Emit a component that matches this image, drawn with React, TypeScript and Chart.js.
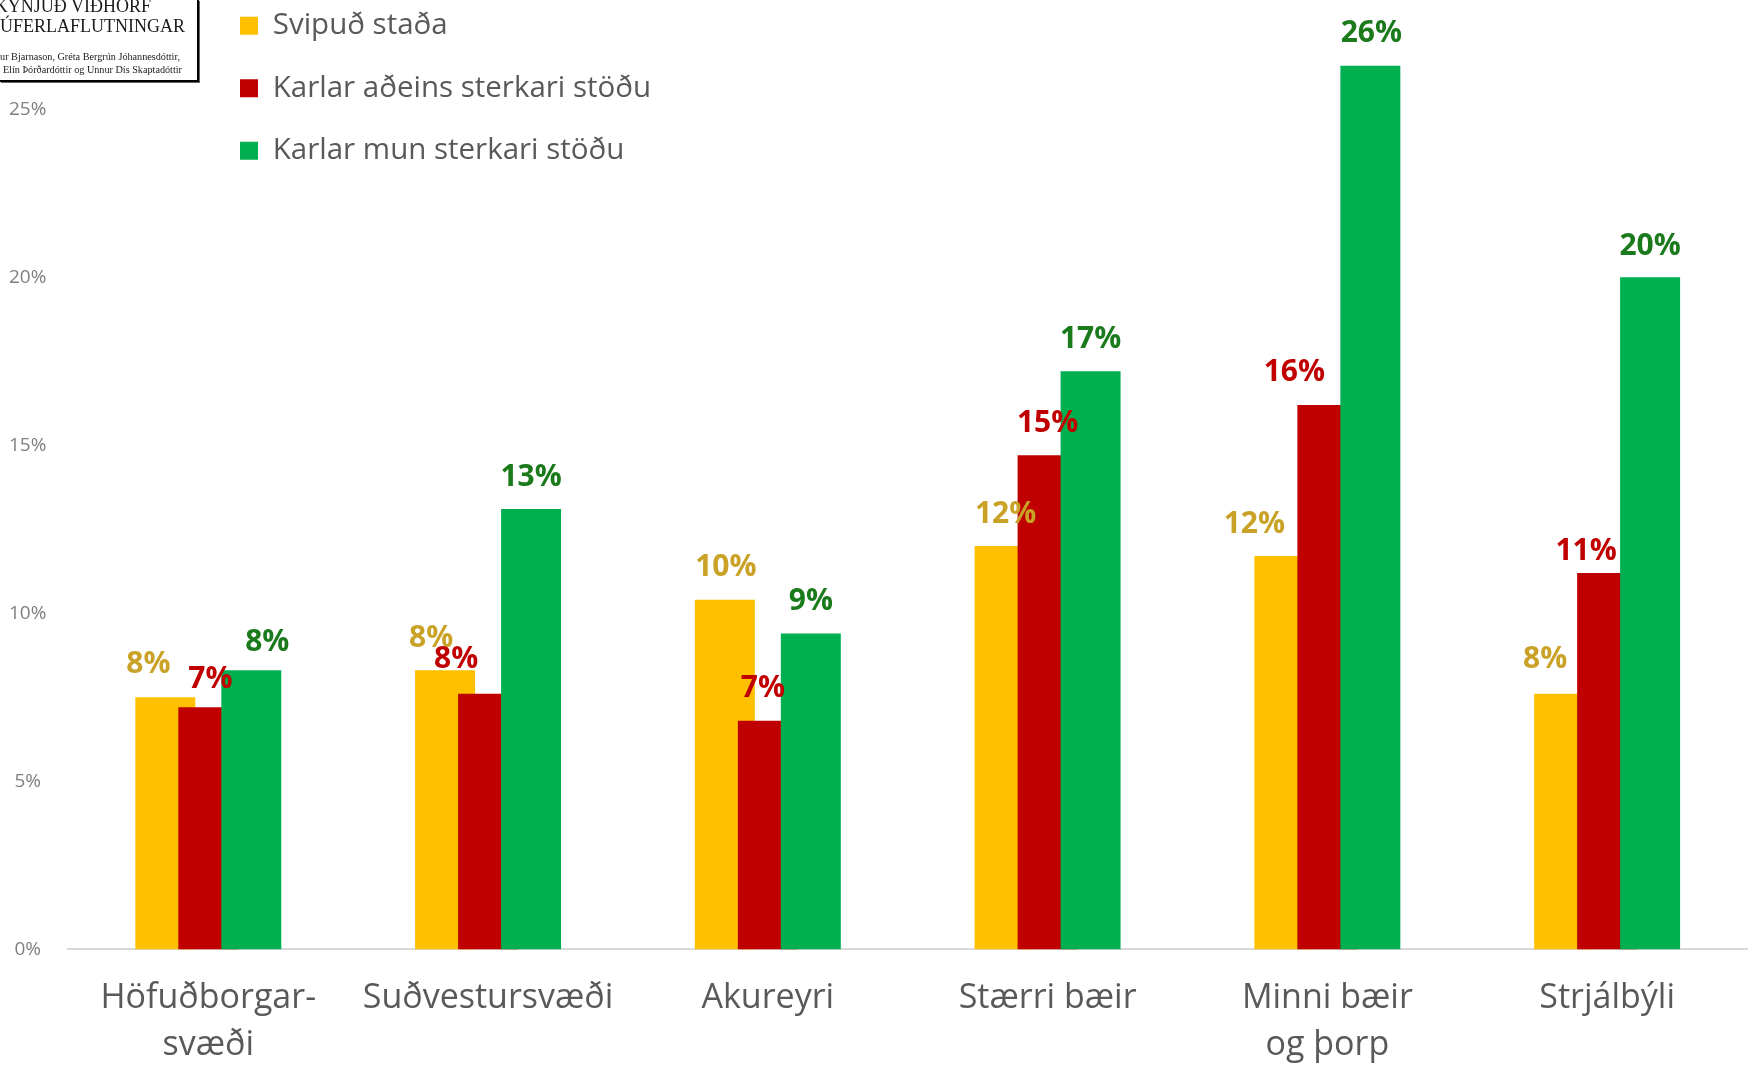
import React, { useEffect, useRef } from 'react';
import { Chart, registerables } from 'chart.js';

Chart.register(...registerables);

// ---------- data ----------
const categories: (string | string[])[] = [
  ['Höfuðborgar-', 'svæði'],
  'Suðvestursvæði',
  'Akureyri',
  'Stærri bæir',
  ['Minni bæir', 'og þorp'],
  'Strjálbýli',
];
const seriesNames = ['Svipuð staða', 'Karlar aðeins sterkari stöðu', 'Karlar mun sterkari stöðu'];
const svipudStada = [7.5, 8.3, 10.4, 12.0, 11.7, 7.6];
const karlarAdeins = [7.2, 7.6, 6.8, 14.7, 16.2, 11.2];
const karlarMun = [8.3, 13.1, 9.4, 17.2, 26.3, 20.0];
const yTickValues = [0, 5, 10, 15, 20, 25];

// ---------- styles ----------
const barColors = ['#FFC000', '#C00000', '#00B050'];
const labelColors = ['#C9A227', '#C00000', '#1B7A1B'];
// per-label nudges (px) relative to default "centered above bar"
const labelDx = [
  [-17, -14, 1, 1, -30, -19],
  [2, -32, -5, 0, -33, -21],
  [16, 0, 0, 0, 1, 0],
];
const labelDy = [
  [-1, 0, 0, 0, 0, -2],
  [4, -2, 0, 0, 0, 11],
  [4, 0, 0, 0, 0, 1],
];
const LABEL_GAP = 32;
const LEGEND_LEFT = 207;
const LEGEND_TOP = -22;

const drawOrderPlugin = {
  id: 'drawOrder',
  beforeDatasetsDraw(chart: any) {
    for (let i = 0; i < chart.data.datasets.length; i++) {
      const meta = chart.getDatasetMeta(i);
      if (!meta.hidden) meta.controller.draw();
    }
    return false;
  },
};

const valueLabelPlugin = {
  id: 'valueLabels',
  afterDraw(chart: any) {
    const ctx = chart.ctx;
    ctx.save();
    ctx.font = 'bold 30px "Open Sans"';
    ctx.textAlign = 'center';
    ctx.textBaseline = 'middle';
    chart.data.datasets.forEach((ds: any, i: number) => {
      const meta = chart.getDatasetMeta(i);
      meta.data.forEach((bar: any, j: number) => {
        const v = ds.data[j];
        ctx.fillStyle = labelColors[i];
        ctx.fillText(Math.round(v) + '%', bar.x + labelDx[i][j], bar.y - LABEL_GAP + labelDy[i][j]);
      });
    });
    ctx.restore();
  },
};

const legendPlacePlugin = {
  id: 'legendPlace',
  afterLayout(chart: any) {
    const lg = chart.legend;
    if (!lg) return;
    const w = lg.width;
    const h = lg.height;
    lg.left = LEGEND_LEFT;
    lg.right = LEGEND_LEFT + w;
    lg.top = LEGEND_TOP;
    lg.bottom = LEGEND_TOP + h;
  },
};

function ChartCanvas() {
  const ref = useRef<HTMLCanvasElement | null>(null);
  useEffect(() => {
    if (!ref.current) return;
    const seriesValues = [svipudStada, karlarAdeins, karlarMun];
    const chart = new Chart(ref.current, {
      type: 'bar',
      data: {
        labels: categories,
        datasets: seriesValues.map((vals, i) => ({
          label: seriesNames[i],
          data: vals,
          backgroundColor: barColors[i],
          borderWidth: 0,
          categoryPercentage: 0.461,
          barPercentage: 1.395,
        })),
      },
      options: {
        animation: false,
        responsive: true,
        maintainAspectRatio: false,
        layout: { padding: { left: -13, right: 5, top: 0, bottom: -29 } },
        plugins: {
          tooltip: { enabled: false },
          legend: {
            position: 'chartArea',
            align: 'start',
            labels: {
              boxWidth: 18,
              boxHeight: 18,
              padding: 33,
              color: '#595959',
              font: { family: '"Open Sans"', size: 29.5 },
            },
          },
        },
        scales: {
          x: {
            grid: { display: false, drawTicks: false },
            border: { display: true, color: '#D9D9D9', width: 2 },
            ticks: {
              color: '#595959',
              padding: 26,
              maxRotation: 0,
              autoSkip: false,
              font: { family: '"Open Sans"', size: 34, lineHeight: 1.38 },
            },
          },
          y: {
            min: 0,
            max: 27.26,
            grid: { display: false, drawTicks: false },
            border: { display: false },
            afterBuildTicks: (axis: any) => {
              axis.ticks = yTickValues.map((v) => ({ value: v }));
            },
            ticks: {
              color: '#7F7F7F',
              padding: 22,
              crossAlign: 'center',
              font: { family: '"Open Sans"', size: 19 },
              callback: (v: any) => v + '%',
            },
          },
        },
      } as any,
      plugins: [drawOrderPlugin, valueLabelPlugin, legendPlacePlugin],
    });
    return () => chart.destroy();
  }, []);
  return <canvas ref={ref} />;
}

function TitleBox() {
  const line = (text: string, top: number, right: number, size: number) => (
    <div
      style={{
        position: 'absolute',
        top,
        right,
        fontSize: size,
        lineHeight: 1,
        whiteSpace: 'nowrap',
        fontFamily: '"Liberation Serif", "DejaVu Serif", serif',
        color: '#1a1a1a',
      }}
    >
      {text}
    </div>
  );
  return (
    <div
      style={{
        position: 'absolute',
        left: 0,
        top: 0,
        width: 197,
        height: 80,
        borderRight: '2px solid #000',
        borderBottom: '2px solid #000',
        boxShadow: '1px 1px 0 #666',
        background: '#fff',
        overflow: 'hidden',
      }}
    >
      {line('KYNJUÐ VIÐHORF', -3, 46, 18)}
      {line('ÚFERLAFLUTNINGAR', 17, 12, 18)}
      {line('ur Bjarnason, Gréta Bergrún Jóhannesdóttir,', 52, 17, 10.2)}
      {line('Elín Þórðardóttir og Unnur Dís Skaptadóttir', 65, 15, 10.2)}
    </div>
  );
}

export default function App() {
  return (
    <div
      style={{
        position: 'fixed',
        left: 0,
        top: 0,
        width: 1752,
        height: 1066,
        background: '#fff',
        overflow: 'hidden',
      }}
    >
      <ChartCanvas />
      <TitleBox />
    </div>
  );
}
